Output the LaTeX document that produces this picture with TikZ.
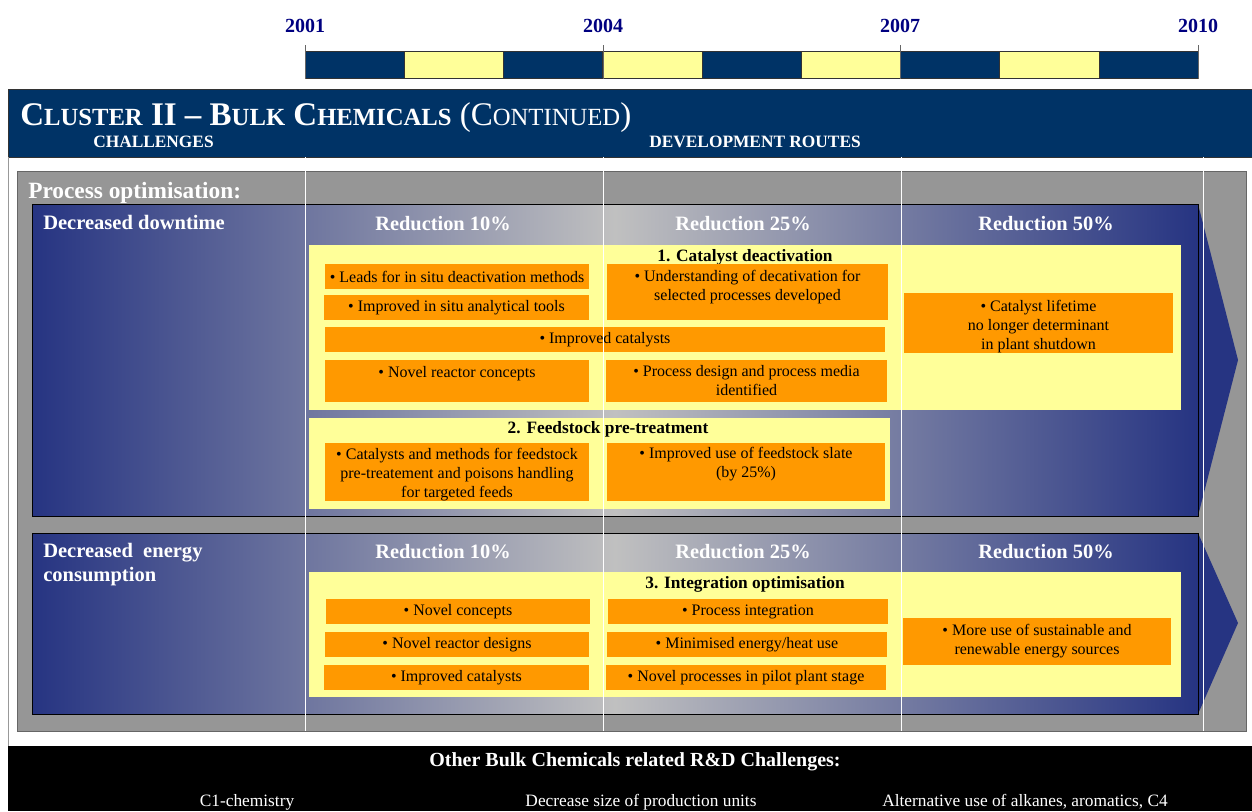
\documentclass[tikz,border=0pt]{standalone}
\usepackage{fontspec}
\setmainfont{Liberation Serif}
\usepackage{tikz}
\usetikzlibrary{positioning}
\usepackage{xcolor}
\definecolor{hdrnavy}{RGB}{0,51,102}
\definecolor{yearblue}{RGB}{0,0,128}
\definecolor{palyellow}{RGB}{255,255,153}
\definecolor{boxorange}{RGB}{255,153,0}
\definecolor{panelgrey}{RGB}{150,150,150}
\definecolor{arrowblue}{RGB}{38,52,130}
\definecolor{midsilver}{RGB}{192,192,192}
\newdimen\px \px=0.75pt
\newcommand{\sclow}[1]{{\fontsize{18.5}{22}\selectfont #1}}
\tikzstyle{obox} = [fill=boxorange, inner sep=0pt, align=center, font=\fontsize{12}{14.25}\selectfont]
\tikzstyle{ybox} = [fill=palyellow, inner sep=0pt]
\tikzstyle{ytitle} = [anchor=base, inner sep=0pt, font=\bfseries\fontsize{13}{15}\selectfont]
\tikzstyle{redlabel} = [anchor=base, inner sep=0pt, text=white, font=\bfseries\fontsize{15.3}{18}\selectfont]
\tikzstyle{rowlabel} = [anchor=base west, inner sep=0pt, text=white, align=left, font=\bfseries\fontsize{15.4}{18}\selectfont]
\tikzstyle{foot} = [anchor=base, inner sep=0pt, text=white, font=\fontsize{13}{15}\selectfont]

\begin{document}
\begin{tikzpicture}[x=\px, y=-\px]
\useasboundingbox (0,0) rectangle (1252,811);

% Timeline
\foreach \i in {0,...,8} {
  \pgfmathsetmacro{\xa}{305+\i*99.22}
  \pgfmathsetmacro{\xb}{305+(\i+1)*99.22}
  \ifodd\i
    \draw[black!80, fill=palyellow] (\xa,51) rectangle (\xb,78);
  \else
    \draw[black!80, fill=hdrnavy] (\xa,51) rectangle (\xb,78);
  \fi
}
\foreach \yr/\xx in {2001/305, 2004/603, 2007/900, 2010/1198} {
  \draw[black!60] (\xx,45) -- (\xx,79);
  \node[anchor=base, inner sep=0pt, text=yearblue, font=\bfseries\fontsize{15}{18}\selectfont] (y\yr) at (\xx,32) {\yr};
}

% Header
\draw[black!80, fill=hdrnavy] (8,89) rectangle (1260,157);
\node[anchor=base west, inner sep=0pt, text=white, font=\fontsize{24.75}{30}\selectfont] (title) at (20,125)
  {\bfseries C\sclow{LUSTER} II – B\sclow{ULK} C\sclow{HEMICALS} \mdseries(C\sclow{ONTINUED})};
\node[anchor=base west, inner sep=0pt, text=white, font=\bfseries\fontsize{13}{15}\selectfont] (chall) at (93,147) {CHALLENGES};
\node[anchor=base, inner sep=0pt, text=white, font=\bfseries\fontsize{13}{15}\selectfont] (routes) at (755,147) {DEVELOPMENT ROUTES};

% Grey panel
\draw[black!40] (8,157) -- (8,746);
\draw[black!60, fill=panelgrey] (17,171) rectangle (1246,731);
\node[anchor=base west, inner sep=0pt, text=white, font=\bfseries\fontsize{17.5}{20}\selectfont] (procopt) at (28,198) {Process optimisation:};

% Upper arrow
\fill[arrowblue] (1198,204) -- (1238,360) -- (1198,516) -- cycle;
\draw[black, left color=arrowblue, right color=arrowblue, middle color=midsilver] (32,204) rectangle (1198,516);
\node[rowlabel] (down) at (43,229) {Decreased downtime};
\node[redlabel] (r10a) at (443,230) {Reduction 10\%};
\node[redlabel] (r25a) at (743,230) {Reduction 25\%};
\node[redlabel] (r50a) at (1046,230) {Reduction 50\%};

% 1. Catalyst deactivation
\node[ybox, minimum width=872\px, minimum height=165\px] (cat) at (745,327.5) {};
\node[ytitle] (cattitle) at (745,261) {1. Catalyst deactivation};
\node[obox, minimum width=264\px, minimum height=25\px] (leads) at (457,276.5) {\textbullet{} Leads for in situ deactivation methods};
\node[obox, minimum width=265\px, minimum height=25\px] (tools) at (456.5,307.5) {\textbullet{} Improved in situ analytical tools};
\node[obox, minimum width=281\px, minimum height=56\px] (under) at (747.5,292) {\textbullet{} Understanding of decativation for\\selected processes developed\\[-5pt]\mbox{}};
\node[obox, minimum width=560\px, minimum height=25\px] (impcat) at (605,339.5) {\textbullet{} Improved catalysts};
\node[obox, minimum width=264\px, minimum height=42\px] (reactor) at (457,381) {\textbullet{} Novel reactor concepts\\\mbox{}};
\node[obox, minimum width=281\px, minimum height=42\px] (design) at (746.5,381) {\textbullet{} Process design and process media\\identified};
\node[obox, minimum width=269\px, minimum height=58\px] (life) at (1038.5,323) {\rule{0pt}{14pt}\textbullet{} Catalyst lifetime\\no longer determinant\\in plant shutdown};

% 2. Feedstock pre-treatment
\node[ybox, minimum width=581\px, minimum height=91\px] (feed) at (599.5,463.5) {};
\node[ytitle] (feedtitle) at (608,433) {2. Feedstock pre-treatment};
\node[obox, minimum width=264\px, minimum height=58\px] (poison) at (457,472) {\rule{0pt}{12pt}\textbullet{} Catalysts and methods for feedstock\\pre-treatement and poisons handling\\for targeted feeds};
\node[obox, minimum width=278\px, minimum height=58\px] (slate) at (746,472) {\textbullet{} Improved use of feedstock slate\\(by 25\%)\\\mbox{}};

% Lower arrow
\fill[arrowblue] (1198,533) -- (1238,623) -- (1198,714) -- cycle;
\draw[black, left color=arrowblue, right color=arrowblue, middle color=midsilver] (32,533) rectangle (1198,714);
\node[rowlabel] (energy) at (43,581) {Decreased\ \ energy\\consumption};
\node[redlabel] (r10b) at (443,558) {Reduction 10\%};
\node[redlabel] (r25b) at (743,558) {Reduction 25\%};
\node[redlabel] (r50b) at (1046,558) {Reduction 50\%};

% 3. Integration optimisation
\node[ybox, minimum width=872\px, minimum height=125\px] (integ) at (745,634.5) {};
\node[ytitle] (integtitle) at (745,588) {3. Integration optimisation};
\node[obox, minimum width=264\px, minimum height=25\px] (concepts) at (458,611.5) {\textbullet{} Novel concepts};
\node[obox, minimum width=264\px, minimum height=25\px] (designs) at (457,644.5) {\textbullet{} Novel reactor designs};
\node[obox, minimum width=265\px, minimum height=25\px] (impcat2) at (456.5,677.5) {\textbullet{} Improved catalysts};
\node[obox, minimum width=280\px, minimum height=25\px] (procint) at (748,611.5) {\textbullet{} Process integration};
\node[obox, minimum width=280\px, minimum height=25\px] (heat) at (747,644.5) {\textbullet{} Minimised energy/heat use};
\node[obox, minimum width=280\px, minimum height=25\px] (pilot) at (746,677.5) {\textbullet{} Novel processes in pilot plant stage};
\node[obox, minimum width=268\px, minimum height=47\px] (renew) at (1037,641.5) {\textbullet{} More use of sustainable and\\renewable energy sources};

% Time grid
\foreach \xx in {305,603,901,1203}
  \draw[white] (\xx,157) -- (\xx,731);

% Other challenges
\fill[black] (8,746) rectangle (1252,811);
\node[anchor=base, inner sep=0pt, text=white, font=\bfseries\fontsize{15}{18}\selectfont] (other) at (635,766) {Other Bulk Chemicals related R\&D Challenges:};
\node[foot] (c1) at (247,806) {C1-chemistry};
\node[foot] (size) at (641,806) {Decrease size of production units};
\node[foot] (alk) at (1025,806) {Alternative use of alkanes, aromatics, C4};
\end{tikzpicture}
\end{document}
